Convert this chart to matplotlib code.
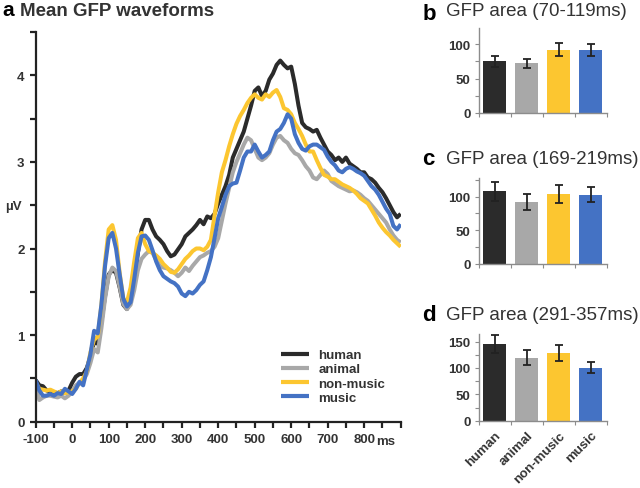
import numpy as np
import matplotlib
matplotlib.use('Agg')
import matplotlib.pyplot as plt
from matplotlib.transforms import blended_transform_factory

plt.rcParams['font.family'] = ['Liberation Sans', 'DejaVu Sans']

# ---- waveform data (uV), sampled every 10 ms from -100 to 900 ms
time_ms = np.arange(-100, 901, 10)
human = [0.48, 0.42, 0.41, 0.36, 0.35, 0.34, 0.33, 0.35, 0.33, 0.36,
         0.45, 0.52, 0.55, 0.55, 0.62, 0.75, 0.92, 0.90, 1.15, 1.45,
         1.70, 1.75, 1.72, 1.55, 1.35, 1.30, 1.40, 1.65, 1.95, 2.22,
         2.33, 2.33, 2.22, 2.14, 2.10, 2.05, 1.97, 1.91, 1.93, 1.99,
         2.05, 2.14, 2.18, 2.22, 2.27, 2.33, 2.28, 2.37, 2.35, 2.40,
         2.52, 2.62, 2.72, 2.85, 3.05, 3.15, 3.25, 3.35, 3.50, 3.65,
         3.82, 3.86, 3.76, 3.82, 3.95, 4.02, 4.12, 4.17, 4.12, 4.08,
         4.10, 3.90, 3.65, 3.45, 3.40, 3.38, 3.35, 3.37, 3.28, 3.20,
         3.12, 3.08, 3.02, 3.05, 3.00, 3.05, 2.98, 2.95, 2.92, 2.88,
         2.88, 2.82, 2.80, 2.76, 2.70, 2.65, 2.58, 2.50, 2.42, 2.36,
         2.40]
animal = [0.42, 0.25, 0.28, 0.30, 0.30, 0.29, 0.28, 0.30, 0.27, 0.30,
          0.35, 0.42, 0.45, 0.48, 0.55, 0.68, 0.84, 0.80, 1.08, 1.42,
          1.68, 1.78, 1.74, 1.56, 1.36, 1.30, 1.35, 1.52, 1.75, 1.88,
          1.93, 1.97, 1.95, 1.87, 1.80, 1.78, 1.77, 1.75, 1.72, 1.68,
          1.72, 1.78, 1.74, 1.80, 1.85, 1.90, 1.92, 1.95, 1.97, 2.02,
          2.12, 2.32, 2.52, 2.70, 2.88, 3.00, 3.10, 3.20, 3.28, 3.25,
          3.15, 3.05, 3.02, 3.05, 3.10, 3.20, 3.28, 3.30, 3.25, 3.22,
          3.15, 3.10, 3.08, 3.02, 2.95, 2.90, 2.82, 2.80, 2.85, 2.90,
          2.86, 2.78, 2.75, 2.72, 2.70, 2.68, 2.66, 2.67, 2.65, 2.62,
          2.58, 2.55, 2.50, 2.45, 2.40, 2.35, 2.30, 2.22, 2.15, 2.10,
          2.07]
non_music = [0.45, 0.38, 0.37, 0.36, 0.37, 0.35, 0.33, 0.35, 0.33, 0.34,
             0.35, 0.38, 0.45, 0.50, 0.58, 0.80, 0.95, 0.98, 1.35, 1.85,
             2.22, 2.27, 2.10, 1.72, 1.42, 1.38, 1.55, 1.85, 2.12, 2.18,
             2.05, 1.97, 1.95, 1.92, 1.88, 1.82, 1.78, 1.73, 1.72, 1.76,
             1.82, 1.88, 1.92, 1.97, 2.00, 2.00, 1.98, 2.02, 2.10, 2.38,
             2.65, 2.88, 3.02, 3.18, 3.32, 3.44, 3.53, 3.60, 3.68, 3.74,
             3.78, 3.74, 3.72, 3.78, 3.75, 3.80, 3.83, 3.75, 3.62, 3.60,
             3.55, 3.45, 3.38, 3.30, 3.20, 3.12, 3.12, 3.02, 2.93, 2.85,
             2.83, 2.80, 2.80, 2.77, 2.74, 2.72, 2.70, 2.67, 2.63, 2.58,
             2.55, 2.52, 2.45, 2.38, 2.30, 2.24, 2.19, 2.15, 2.10, 2.06,
             2.02]
music = [0.48, 0.36, 0.30, 0.30, 0.32, 0.30, 0.33, 0.32, 0.38, 0.35,
         0.32, 0.38, 0.46, 0.42, 0.60, 0.78, 1.05, 1.02, 1.35, 1.80,
         2.12, 2.18, 2.00, 1.70, 1.42, 1.33, 1.38, 1.65, 1.95, 2.14,
         2.15, 2.10, 1.98, 1.85, 1.75, 1.68, 1.65, 1.62, 1.60, 1.56,
         1.48, 1.45, 1.50, 1.48, 1.52, 1.58, 1.62, 1.75, 1.90, 2.12,
         2.35, 2.48, 2.62, 2.72, 2.75, 2.76, 2.90, 3.05, 3.12, 3.12,
         3.20, 3.12, 3.05, 3.08, 3.12, 3.25, 3.35, 3.38, 3.45, 3.55,
         3.50, 3.32, 3.22, 3.15, 3.13, 3.18, 3.20, 3.20, 3.17, 3.14,
         3.06, 3.00, 2.96, 2.90, 2.88, 2.92, 2.94, 2.92, 2.89, 2.87,
         2.84, 2.78, 2.72, 2.68, 2.62, 2.54, 2.46, 2.40, 2.26, 2.22,
         2.28]

conditions = ['human', 'animal', 'non-music', 'music']
colors = ['#2b2b2b', '#a8a8a8', '#fcc630', '#4472c4']

# ---- GFP area bars (mean, error)
area_b = [75, 72, 92, 91]
err_b = [7.5, 7, 9.4, 8.7]
area_c = [108, 91.5, 104, 103]
err_c = [14.5, 12, 13, 11.5]
area_d = [145, 119.5, 128.5, 100.5]
err_d = [17, 14, 16, 10.5]

xtick_labels = ['-100', '0', '100', '200', '300', '400', '500', '600', '700', '800']

W, H = 640, 489
fig = plt.figure(figsize=(6.4, 4.89), dpi=100)

def fbox(x0, y0, x1, y1):
    # pixel box (top-left origin) -> figure fraction rect
    return [x0 / W, 1 - y1 / H, (x1 - x0) / W, (y1 - y0) / H]

tick_font = dict(fontsize=9.5, fontweight='bold', color='#333333')

# ---------------- panel a ----------------
ax = fig.add_axes(fbox(35.7, 33, 400.7, 422.7))
series = [human, animal, non_music, music]
for name, vals, c in zip(conditions, series, colors):
    ax.plot(time_ms, vals, color=c, lw=2.9, label=name, solid_capstyle='butt')
ax.set_xlim(-100, 900)
ax.set_ylim(0, 4.5)
for s in ['top', 'right']:
    ax.spines[s].set_visible(False)
for s in ['left', 'bottom']:
    ax.spines[s].set_linewidth(1.6)
    ax.spines[s].set_color('#222222')
ax.set_xticks(np.arange(-100, 901, 50))
ax.set_xticklabels([xtick_labels[i // 2] if i % 2 == 0 and i // 2 < len(xtick_labels) else ''
                    for i in range(21)])
ax.set_yticks(np.arange(0, 4.51, 0.5))
ax.set_yticklabels(['0', '', '1', '', '2', '', '3', '', '4', ''])
ax.tick_params(length=4, width=1.6, color='#222222', pad=4)
for lab in ax.get_xticklabels() + ax.get_yticklabels():
    lab.set_fontsize(9.5)
    lab.set_fontweight('bold')
    lab.set_color('#333333')
tr = blended_transform_factory(ax.transData, ax.transAxes)
ax.text(834, -0.049, 'ms', transform=tr, ha='left', va='center', **tick_font)
fig.text(13 / W, 1 - 207 / H, 'µV', ha='center', va='center', **tick_font)

leg = ax.legend(loc='upper left', bbox_to_anchor=(281 / W, 1 - 350 / H),
                bbox_transform=fig.transFigure, frameon=False, borderpad=0,
                borderaxespad=0, handlelength=2.1, handletextpad=0.75,
                labelspacing=0.15, prop=dict(size=9.5, weight='bold'))
for t in leg.get_texts():
    t.set_color('#333333')
for h in leg.get_lines():
    h.set_linewidth(3)

fig.text(2 / W, 1 - 15.5 / H, 'a', fontsize=15, fontweight='bold', color='black', va='baseline')
fig.text(20.5 / W, 1 - 15.5 / H, 'Mean GFP waveforms', fontsize=13.5, fontweight='bold',
         color='#333333', va='baseline')

# ---------------- panels b, c, d ----------------
def bar_panel(box, vals, errs, ytop, letter, title, letter_base, title_base, show_labels):
    bx = fig.add_axes(fbox(*box))
    pos = np.arange(len(vals))
    bx.bar(pos, vals, width=0.72, color=colors, zorder=2)
    bx.errorbar(pos, vals, yerr=errs, fmt='none', ecolor='#222222', elinewidth=1.3,
                capsize=3, capthick=1.3, zorder=3)
    bx.set_xlim(-0.5, 3.5)
    bx.set_ylim(0, ytop)
    for s in ['top', 'right']:
        bx.spines[s].set_visible(False)
    for s in ['left', 'bottom']:
        bx.spines[s].set_color('#8c8c8c')
        bx.spines[s].set_linewidth(1.0)
    bx.set_xticks(np.arange(-0.5, 3.6, 1.0))
    bx.set_xticklabels([])
    bx.tick_params(axis='x', which='major', length=3, color='#8c8c8c')
    bx.set_yticks(np.arange(0, ytop + 0.1, 25))
    bx.set_yticklabels([str(int(v)) if v % 50 == 0 else '' for v in np.arange(0, ytop + 0.1, 25)])
    bx.tick_params(axis='y', length=3, color='#8c8c8c', pad=3)
    for lab in bx.get_yticklabels():
        lab.set_fontsize(9.5)
        lab.set_fontweight('bold')
        lab.set_color('#333333')
    if show_labels:
        bx.set_xticks(pos, minor=True)
        bx.set_xticklabels(conditions, minor=True, rotation=45, ha='right',
                           rotation_mode='anchor', **tick_font)
        bx.tick_params(axis='x', which='minor', length=0, pad=6)
    fig.text(422.5 / W, 1 - letter_base / H, letter, fontsize=16, fontweight='bold',
             color='black', va='baseline')
    fig.text(446.5 / W, 1 - title_base / H, title, fontsize=13.5,
             color='#333333', va='baseline')
    return bx

bar_panel((479, 29, 606.7, 114), area_b, err_b, 123.5, 'b', 'GFP area (70-119ms)', 20, 15.5, False)
bar_panel((479, 179.3, 606.7, 264.5), area_c, err_c, 127.5, 'c', 'GFP area (169-219ms)', 165, 164.5, False)
bar_panel((479, 335, 606.7, 421.7), area_d, err_d, 164.5, 'd', 'GFP area (291-357ms)', 321, 319.5, True)

fig.savefig('out.png', dpi=100)
